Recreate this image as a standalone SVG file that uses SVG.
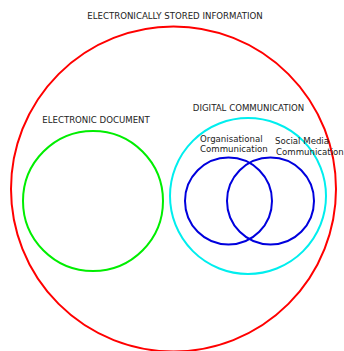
<svg xmlns="http://www.w3.org/2000/svg" width="344" height="351" viewBox="0 0 344 351">
<style>
text{font-family:"DejaVu Sans",sans-serif;font-size:8.6px;fill:#222}
circle{fill:none;stroke-width:2}
</style>
<rect width="344" height="351" fill="#fff"/>
<g id="esi"><circle cx="173.5" cy="189" r="162.5" stroke="#ff0000"/><text x="175" y="19" text-anchor="middle">ELECTRONICALLY STORED INFORMATION</text></g>
<g id="ed"><circle cx="93" cy="201" r="70" stroke="#00ee00"/><text x="96" y="123" text-anchor="middle">ELECTRONIC DOCUMENT</text></g>
<g id="dc"><circle cx="248" cy="196" r="78" stroke="#00eeee"/><text x="248.5" y="111" text-anchor="middle">DIGITAL COMMUNICATION</text></g>
<g id="oc"><circle cx="228.5" cy="201" r="43.5" stroke="#0000dd"/><text x="200" y="142">Organisational</text><text x="200" y="152">Communication</text></g>
<g id="smc"><circle cx="270.5" cy="201" r="43.5" stroke="#0000dd"/><text x="275" y="144">Social Media</text><text x="276" y="155">Communication</text></g>
<g id="connectors"/>
</svg>
